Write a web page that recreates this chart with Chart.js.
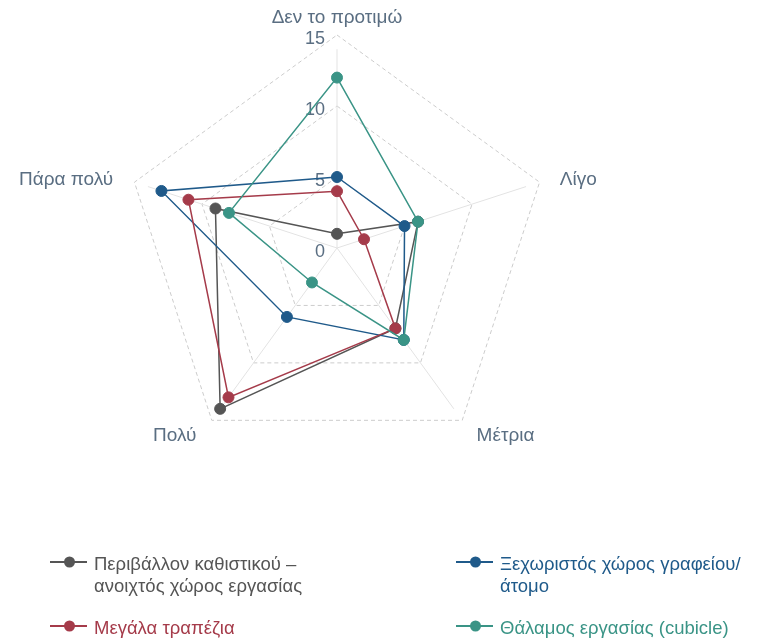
<!DOCTYPE html>
<html>
<head>
<meta charset="utf-8">
<script src="https://cdn.jsdelivr.net/npm/chart.js@4.4.1/dist/chart.umd.min.js"></script>
<style>
  html, body { margin: 0; padding: 0; background: #ffffff; }
  #wrap { width: 763px; height: 638px; }
</style>
</head>
<body>
<div id="wrap"><canvas id="c" width="763" height="638"></canvas></div>
<script>
// Axes of the radar, clockwise from the top
const categories = ['Δεν το προτιμώ', 'Λίγο', 'Μέτρια', 'Πολύ', 'Πάρα πολύ'];
const tickValues = [0, 5, 10, 15];

// One value per axis for each workspace type
const openPlan      = [1, 6, 7, 14, 9];
const privateOffice = [5, 5, 8, 6, 13];
const largeTables   = [4, 2, 7, 13, 11];
const cubicle       = [12, 6, 8, 3, 8];

// Legend text, split into the lines it is shown on
const seriesNames = [
  ['Περιβάλλον καθιστικού –', 'ανοιχτός χώρος εργασίας'],
  ['Ξεχωριστός χώρος γραφείου/', 'άτομο'],
  ['Μεγάλα τραπέζια'],
  ['Θάλαμος εργασίας (cubicle)']
];
const seriesValues = [openPlan, privateOffice, largeTables, cubicle];
const seriesColors = ['#555555', '#1f5a8a', '#a53b4a', '#3a9486'];
const drawOrder = [3, 2, 1, 0];   // lower number is painted on top

const FONT = "'Liberation Sans', Arial, sans-serif";
const LABEL_COLOR = '#5a6e82';
const AXIS_REACH = 14;            // angle lines stop at this value

const radarFrame = {
  id: 'radarFrame',
  beforeDatasetsDraw(chart) {
    const s = chart.scales.r;
    const ctx = chart.ctx;
    ctx.save();
    // spokes
    ctx.strokeStyle = '#e3e3e3';
    ctx.lineWidth = 1;
    const reach = s.getDistanceFromCenterForValue(AXIS_REACH);
    chart.data.labels.forEach((_, i) => {
      const p = s.getPointPosition(i, reach);
      ctx.beginPath();
      ctx.moveTo(s.xCenter, s.yCenter);
      ctx.lineTo(p.x, p.y);
      ctx.stroke();
    });
    // tick values along the top spoke
    ctx.fillStyle = LABEL_COLOR;
    ctx.font = '18px ' + FONT;
    ctx.textAlign = 'right';
    ctx.textBaseline = 'middle';
    tickValues.forEach(v => {
      const d = s.getDistanceFromCenterForValue(v);
      ctx.fillText(String(v), s.xCenter - 12, s.yCenter - d + 4);
    });
    // axis names
    ctx.font = '19px ' + FONT;
    const outer = s.getDistanceFromCenterForValue(s.max);
    chart.data.labels.forEach((label, i) => {
      const p = s.getPointPosition(i, outer + 16);
      const dx = p.x - s.xCenter;
      let x = p.x, y = p.y;
      if (Math.abs(dx) < 1) { ctx.textAlign = 'center'; y -= 1; }
      else if (dx > 0) { ctx.textAlign = 'left'; x += 5; y += 3; }
      else { ctx.textAlign = 'right'; x -= 6; y += 3; }
      ctx.fillText(label, x, y);
    });
    ctx.restore();
  }
};

const bottomLegend = {
  id: 'bottomLegend',
  afterDraw(chart) {
    const ctx = chart.ctx;
    const cols = [50, 456];
    const rows = [562, 626];
    ctx.save();
    ctx.font = '18.5px ' + FONT;
    ctx.textBaseline = 'middle';
    ctx.textAlign = 'left';
    chart.data.datasets.forEach((ds, i) => {
      const x = cols[i % 2];
      const y = rows[Math.floor(i / 2)];
      ctx.strokeStyle = ds.borderColor;
      ctx.lineWidth = 2;
      ctx.beginPath();
      ctx.moveTo(x, y);
      ctx.lineTo(x + 37, y);
      ctx.stroke();
      ctx.fillStyle = ds.borderColor;
      ctx.beginPath();
      ctx.arc(x + 19.5, y, 5.5, 0, Math.PI * 2);
      ctx.fill();
      seriesNames[i].forEach((line, k) => {
        ctx.fillText(line, x + 44, y + 3 + k * 22);
      });
    });
    ctx.restore();
  }
};

new Chart(document.getElementById('c'), {
  type: 'radar',
  data: {
    labels: categories,
    datasets: seriesValues.map((vals, i) => ({
      label: seriesNames[i].join(' '),
      data: vals,
      order: drawOrder[i],
      borderColor: seriesColors[i],
      backgroundColor: seriesColors[i],
      pointBackgroundColor: seriesColors[i],
      pointBorderColor: seriesColors[i],
      borderWidth: 1.5,
      pointRadius: 5.5,
      pointBorderWidth: 1,
      fill: false,
      tension: 0
    }))
  },
  options: {
    responsive: false,
    animation: false,
    events: [],
    plugins: {
      legend: { display: false },
      tooltip: { enabled: false }
    },
    scales: {
      r: {
        min: 0,
        max: 15,
        ticks: { display: false, stepSize: 5 },
        pointLabels: { display: false },
        angleLines: { display: false },
        grid: { color: '#cccccc', lineWidth: 1 },
        border: { dash: [4, 3] },
        afterFit(scale) {
          scale.xCenter = 337;
          scale.yCenter = 248;
          scale.drawingArea = 213;
        }
      }
    }
  },
  plugins: [radarFrame, bottomLegend]
});
</script>
</body>
</html>
